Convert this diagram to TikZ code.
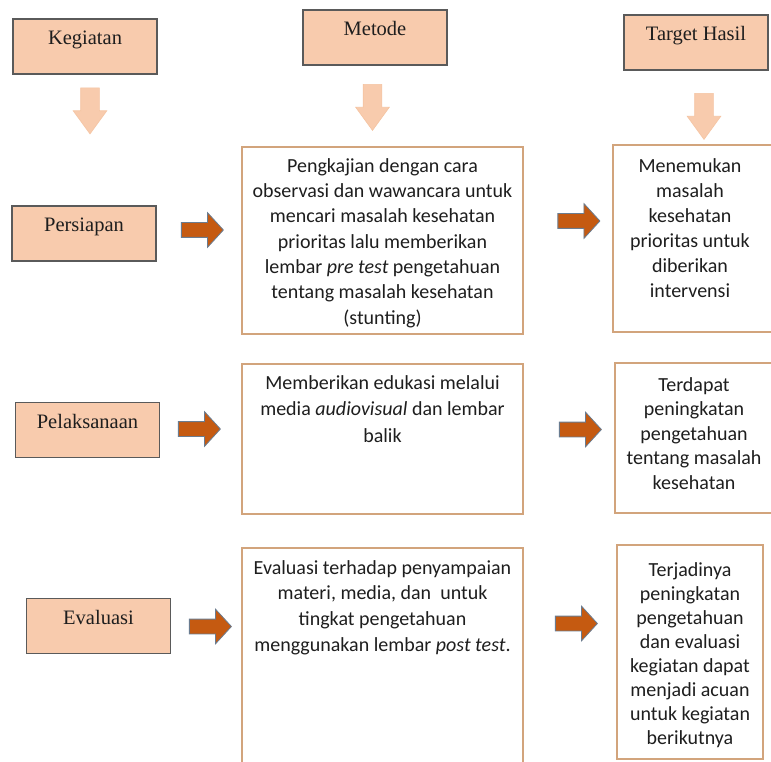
\documentclass[tikz,border=0pt]{standalone}
\usepackage{fontspec}
\setmainfont{Carlito}
\newfontfamily\hdrfont{Liberation Serif}
\usetikzlibrary{shapes.arrows}
\definecolor{peach}{HTML}{F8CBAD}
\definecolor{hdrline}{HTML}{5A5A5A}
\definecolor{cline}{HTML}{D2A47C}
\definecolor{arrfill}{HTML}{C55A11}
\definecolor{arrline}{HTML}{6A7C90}
\definecolor{darrline}{HTML}{F5C4A2}
\definecolor{txt}{HTML}{1E1E1E}
\begin{document}
\begin{tikzpicture}[x=1pt,y=-1pt,
  hdr/.style={draw=hdrline, line width=1.1pt, fill=peach, minimum width=144pt,
    inner sep=0pt, text height=26pt, text depth=29pt, text=txt,
    font=\hdrfont\fontsize{20.5}{24}\selectfont},
  cbox/.style={draw=cline, line width=1.5pt, fill=white, inner sep=0pt},
  ctext/.style={align=center, inner sep=0pt, anchor=north, text=txt,
    font=\fontsize{20}{#1}\selectfont},
  ctext/.default=25,
  rarrow/.style={single arrow, draw=arrline, fill=arrfill, line width=0.8pt,
    inner sep=0pt, inner ysep=7pt, minimum height=42pt,
    single arrow head extend=10pt, single arrow tip angle=95},
  darrow/.style={single arrow, draw=darrline, fill=peach, line width=0.6pt,
    inner sep=0pt, inner ysep=9pt, minimum height=46pt,
    single arrow head extend=7.5pt, single arrow tip angle=72, rotate=-90}]
\path[use as bounding box, fill=white] (0,0) rectangle (771,762);
\clip (0,0) rectangle (771,762);

% header boxes
\node[hdr] (keg) at (85,46.5) {Kegiatan};
\node[hdr] (met) at (375,37.5) {Metode};
\node[hdr] (tar) at (696,42.5) {Target Hasil};

% down arrows
\node[darrow] (d1) at (90,104.5) {};
\node[darrow] (d2) at (372.5,101) {};
\node[darrow] (d3) at (704,110) {};

% activity boxes
\node[hdr] (per) at (84,233.5) {Persiapan};
\node[hdr] (pel) at (87.5,430) {Pelaksanaan};
\node[hdr] (eva) at (98.5,626) {Evaluasi};

% content boxes
\node[cbox, minimum width=281pt, minimum height=187pt] (m1) at (382.5,240.5) {};
\node[cbox, minimum width=281pt, minimum height=150pt] (m2) at (382.5,439) {};
\node[cbox, minimum width=281pt, minimum height=242pt] (m3) at (382.5,669) {};
\node[cbox, minimum width=177pt, minimum height=187pt] (t1) at (701.5,238.5) {};
\node[cbox, minimum width=175pt, minimum height=150pt] (t2) at (702.5,438) {};
\node[cbox, minimum width=146pt, minimum height=214pt] (t3) at (690,652) {};

% texts
\node[ctext=25.3] (m1t) at (382.5,154.3) {\strut Pengkajian dengan cara\\observasi dan wawancara untuk\\mencari masalah kesehatan\\prioritas lalu memberikan\\lembar \textit{pre test} pengetahuan\\tentang masalah kesehatan\\(stunting)};
\node[ctext=25] (t1t) at (690,154.5) {\strut Menemukan\\masalah\\kesehatan\\prioritas untuk\\diberikan\\intervensi};
\node[ctext=26.5] (m2t) at (382.5,370.5) {\strut Memberikan edukasi melalui\\media \textit{audiovisual} dan lembar\\balik};
\node[ctext=24.5] (t2t) at (694,373.9) {\strut Terdapat\\peningkatan\\pengetahuan\\tentang masalah\\kesehatan};
\node[ctext=25.7] (m3t) at (382.5,556) {\strut Evaluasi terhadap penyampaian\\materi, media, dan\ \ untuk\\tingkat pengetahuan\\menggunakan lembar \textit{post test}.};
\node[ctext=24] (t3t) at (690,559.2) {\strut Terjadinya\\peningkatan\\pengetahuan\\dan evaluasi\\kegiatan dapat\\menjadi acuan\\untuk kegiatan\\berikutnya};

% right arrows
\node[rarrow] (r1a) at (199,230) {};
\node[rarrow] (r1b) at (575.5,221) {};
\node[rarrow] (r2a) at (196,429) {};
\node[rarrow] (r2b) at (577,429.5) {};
\node[rarrow] (r3a) at (207,626.5) {};
\node[rarrow] (r3b) at (573,623.5) {};
\end{tikzpicture}
\end{document}
